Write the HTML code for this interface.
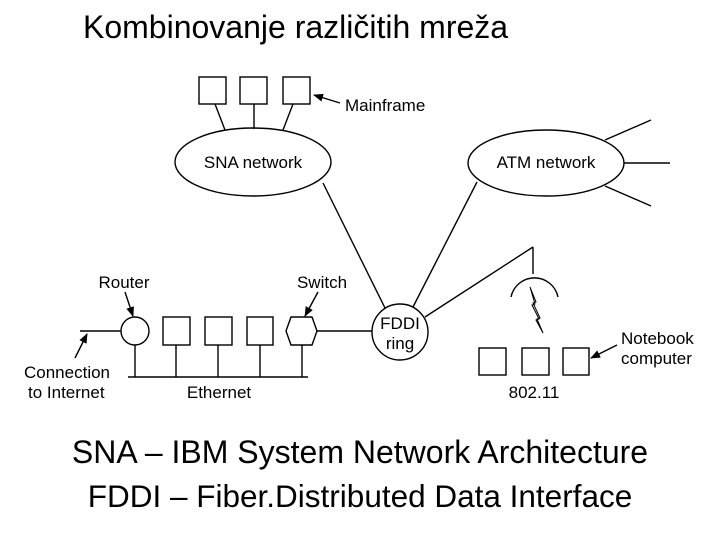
<!DOCTYPE html>
<html><head><meta charset="utf-8"><style>
html,body{margin:0;padding:0;background:#fff;width:720px;height:540px;overflow:hidden}
svg{display:block}
text{font-family:"Liberation Sans",sans-serif;fill:#000}
</style></head><body>
<svg width="720" height="540" viewBox="0 0 720 540">
<defs><marker id="a" markerWidth="10" markerHeight="8" refX="9" refY="4" orient="auto" markerUnits="userSpaceOnUse"><path d="M0,0 L10,4 L0,8 z" fill="#000"/></marker></defs>
<text x="83" y="38" font-size="32">Kombinovanje različitih mreža</text>
<g stroke="#000" stroke-width="1.4" fill="none">
<rect x="199" y="77" width="27" height="27"/><rect x="240" y="77" width="27" height="27"/><rect x="283" y="77" width="27" height="27"/>
<line x1="215" y1="104" x2="225" y2="130"/><line x1="254" y1="104" x2="254" y2="129"/><line x1="293" y1="104" x2="283" y2="130"/>
<ellipse cx="253" cy="162" rx="78" ry="34"/>
<line x1="340" y1="103" x2="314" y2="95" marker-end="url(#a)"/>
<line x1="323" y1="183" x2="385" y2="308"/>
<circle cx="400" cy="332" r="28"/>
<ellipse cx="546" cy="163" rx="78" ry="33"/>
<line x1="605" y1="140" x2="651" y2="120"/><line x1="624" y1="163" x2="670" y2="163"/><line x1="605" y1="186" x2="651" y2="206"/>
<line x1="477" y1="182" x2="413" y2="307"/>
<line x1="425" y1="317" x2="533" y2="247"/><line x1="533" y1="247" x2="533" y2="274"/>
<path d="M511,297 A24,24 0 0 1 558,297"/>
<path d="M530,287 L536,302 L533,303 L540,318 L537,319 L543,333 L536,320 L539,319 L532,305 L535,304 Z" stroke-width="1"/>
<rect x="479" y="348" width="27" height="27"/><rect x="522" y="348" width="27" height="27"/><rect x="563" y="348" width="26" height="27"/>
<line x1="617" y1="345" x2="591" y2="358" marker-end="url(#a)"/>
<circle cx="135" cy="331" r="14"/>
<rect x="163" y="317" width="27" height="28"/><rect x="205" y="317" width="27" height="28"/><rect x="247" y="317" width="26" height="28"/>
<path d="M291,317 L312,317 L317,331 L312,345 L291,345 L286,331 Z"/>
<line x1="80" y1="331" x2="121" y2="331"/><line x1="317" y1="331" x2="372" y2="331"/>
<line x1="128" y1="377" x2="308" y2="377"/>
<line x1="135" y1="345" x2="135" y2="377"/><line x1="176" y1="345" x2="176" y2="377"/><line x1="218" y1="345" x2="218" y2="377"/><line x1="260" y1="345" x2="260" y2="377"/><line x1="302" y1="345" x2="302" y2="377"/>
<line x1="125" y1="292" x2="133" y2="316" marker-end="url(#a)"/>
<line x1="318" y1="292" x2="305" y2="316" marker-end="url(#a)"/>
<line x1="75" y1="358" x2="87" y2="334" marker-end="url(#a)"/>
</g>
<g font-size="17">
<text x="345" y="111">Mainframe</text>
<text x="253" y="168" text-anchor="middle">SNA network</text>
<text x="546" y="168" text-anchor="middle">ATM network</text>
<text x="400" y="329" text-anchor="middle">FDDI</text>
<text x="400" y="349" text-anchor="middle">ring</text>
<text x="124" y="288" text-anchor="middle">Router</text>
<text x="322" y="288" text-anchor="middle">Switch</text>
<text x="24" y="378">Connection</text>
<text x="28" y="398">to Internet</text>
<text x="219" y="398" text-anchor="middle">Ethernet</text>
<text x="534" y="398" text-anchor="middle">802.11</text>
<text x="621" y="344">Notebook</text>
<text x="621" y="364">computer</text>
</g>
<text x="360" y="463" font-size="32" text-anchor="middle">SNA – IBM System Network Architecture</text>
<text x="360" y="507" font-size="31.5" text-anchor="middle">FDDI – Fiber.Distributed Data Interface</text>
</svg>
</body></html>
